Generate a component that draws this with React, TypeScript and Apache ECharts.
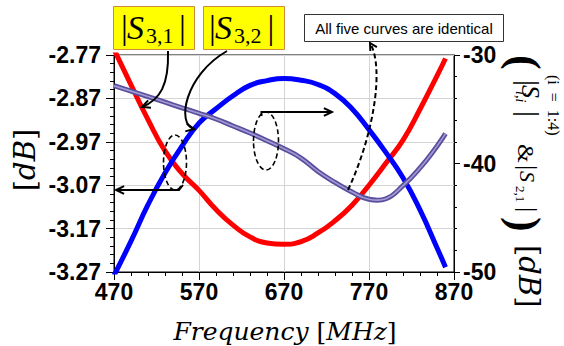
import React, { useEffect, useRef } from "react";
import * as echarts from "echarts";

// Frequency samples (MHz) for |S3,1| and |S3,2| curves
const frequencies = [470, 490, 510, 530, 550, 570, 590, 610, 630, 650, 670, 690, 710, 730, 750, 770, 790, 810, 830, 850, 860];
// |S3,1| [dB] (left axis) – red
const s31Values = [-2.757, -2.839, -2.919, -2.991, -3.043, -3.082, -3.126, -3.162, -3.189, -3.203, -3.206, -3.2, -3.18, -3.152, -3.116, -3.07, -3.019, -2.966, -2.895, -2.818, -2.778];
// |S3,2| [dB] (left axis) – blue
const s32Values = [-3.278, -3.199, -3.115, -3.042, -2.98, -2.927, -2.894, -2.864, -2.84, -2.829, -2.824, -2.828, -2.838, -2.859, -2.894, -2.942, -2.995, -3.053, -3.127, -3.214, -3.259];
// |Si,i| & |S2,1| [dB] (right axis) – purple
const siiFrequencies = [470, 490, 510, 530, 550, 570, 590, 610, 630, 650, 670, 690, 710, 730, 750, 770, 780, 790, 810, 830, 850, 860];
const siiValues = [-32.83, -33.33, -33.83, -34.35, -34.87, -35.37, -35.9, -36.54, -37.19, -37.9, -38.64, -39.5, -40.73, -41.74, -42.63, -43.3, -43.38, -43.25, -42.04, -40.41, -38.4, -37.25];

const xTicks = { min: 470, max: 870, step: 100 };
const leftTicks = { min: -3.27, max: -2.77, step: 0.1 };
const rightTicks = { min: -50, max: -30, step: 10 };

const SERIF = "Liberation Serif";
const DSERIF = "DejaVu Serif";

function head(x: number, y: number, dx: number, dy: number, len = 9, spread = 0.45, extra: any = {}) {
  const a = Math.atan2(dy, dx);
  return {
    type: "polyline",
    z: 100,
    shape: {
      points: [
        [x - len * Math.cos(a - spread), y - len * Math.sin(a - spread)],
        [x, y],
        [x - len * Math.cos(a + spread), y - len * Math.sin(a + spread)],
      ],
    },
    style: { stroke: "#000", fill: "none", lineWidth: 2, ...extra },
  };
}

function rtext(x: number, y: number, text: string, fontSize: number, opts: any = {}) {
  return {
    type: "text",
    x,
    y,
    rotation: opts.rotation ?? -Math.PI / 2,
    z: 100,
    style: {
      text,
      fontSize,
      fontFamily: opts.fontFamily ?? SERIF,
      fontStyle: opts.italic ? "italic" : "normal",
      fontWeight: opts.bold ? "bold" : "normal",
      fill: "#000",
      align: opts.align ?? "left",
      verticalAlign: "middle",
      rich: opts.rich,
    },
  };
}

function ptext(x: number, y: number, text: string, fontSize: number, italic = false) {
  return {
    type: "text",
    x,
    y,
    z: 100,
    style: {
      text,
      fontSize,
      fontFamily: SERIF,
      fontStyle: italic ? "italic" : "normal",
      fill: "#000",
      align: "left",
      verticalAlign: "middle",
    },
  };
}

export default function App() {
  const ref = useRef<HTMLDivElement>(null);
  useEffect(() => {
    document.body.style.margin = "0";
    const chart = echarts.init(ref.current!, null, { renderer: "svg" });
    const labelStyle = {
      fontSize: 23,
      fontWeight: "bold",
      fontFamily: "Liberation Sans",
      color: "#000",
    };
    const dash = { stroke: "#000", fill: "none", lineWidth: 1.6, lineDash: [5, 3] };
    const solid = { stroke: "#000", fill: "none", lineWidth: 2 };
    const option: any = {
      animation: false,
      backgroundColor: "#fff",
      grid: { left: 114, top: 55, width: 340, height: 217, show: true, borderColor: "#000", borderWidth: 1, backgroundColor: "transparent" },
      xAxis: {
        type: "value",
        min: xTicks.min,
        max: xTicks.max,
        interval: xTicks.step,
        axisLine: { lineStyle: { color: "#000", width: 1 } },
        axisTick: { show: true, length: 8, lineStyle: { color: "#000" } },
        minorTick: { show: true, splitNumber: 5, length: 4, lineStyle: { color: "#000" } },
        splitLine: { show: true, lineStyle: { color: "#d4d4d4", width: 1 } },
        axisLabel: { ...labelStyle, margin: 8 },
      },
      yAxis: [
        {
          type: "value",
          position: "left",
          min: leftTicks.min,
          max: leftTicks.max,
          interval: leftTicks.step,
          axisLine: { show: true, lineStyle: { color: "#000", width: 1 } },
          axisTick: { show: true, length: 8, lineStyle: { color: "#000" } },
          minorTick: { show: true, splitNumber: 5, length: 4, lineStyle: { color: "#000" } },
          splitLine: { show: true, lineStyle: { color: "#d4d4d4", width: 1 } },
          axisLabel: { ...labelStyle, margin: 13, formatter: (v: number) => v.toFixed(2) },
        },
        {
          type: "value",
          position: "right",
          min: rightTicks.min,
          max: rightTicks.max,
          interval: rightTicks.step,
          axisLine: { show: true, lineStyle: { color: "#000", width: 1 } },
          axisTick: { show: true, length: 6, lineStyle: { color: "#000" } },
          minorTick: { show: true, splitNumber: 5, length: 3, lineStyle: { color: "#000" } },
          splitLine: { show: false },
          axisLabel: { ...labelStyle, margin: 9, formatter: (v: number) => String(Math.round(v)) },
        },
      ],
      series: [
        {
          type: "line",
          yAxisIndex: 0,
          data: frequencies.map((f, i) => [f, s31Values[i]]),
          smooth: true,
          showSymbol: false,
          lineStyle: { color: "#ff0000", width: 5 },
          z: 2,
        },
        {
          type: "line",
          yAxisIndex: 0,
          data: frequencies.map((f, i) => [f, s32Values[i]]),
          smooth: true,
          showSymbol: false,
          lineStyle: { color: "#0000ff", width: 5 },
          z: 3,
        },
        {
          type: "line",
          yAxisIndex: 1,
          data: siiFrequencies.map((f, i) => [f, siiValues[i]]),
          smooth: true,
          showSymbol: false,
          lineStyle: { color: "#5a4f9c", width: 5 },
          z: 4,
        },
        {
          type: "line",
          yAxisIndex: 1,
          data: siiFrequencies.map((f, i) => [f, siiValues[i]]),
          smooth: true,
          showSymbol: false,
          lineStyle: { color: "#a29ad6", width: 1.6 },
          z: 5,
        },
      ],
      graphic: [
        // yellow label boxes
        { type: "rect", z: 90, shape: { x: 113.5, y: 6.5, width: 81, height: 43 }, style: { fill: "#ffff00", stroke: "#d08a3c", lineWidth: 1 } },
        { type: "rect", z: 90, shape: { x: 203.5, y: 6.5, width: 81, height: 43 }, style: { fill: "#ffff00", stroke: "#d08a3c", lineWidth: 1 } },
        ptext(121, 27.5, "|", 34),
        ptext(127, 27.5, "S", 34, true),
        ptext(146, 35.3, "3,1", 22),
        ptext(179, 27.5, "|", 34),
        ptext(209, 27.5, "|", 34),
        ptext(215, 27.5, "S", 34, true),
        ptext(234, 35.3, "3,2", 22),
        ptext(267.5, 27.5, "|", 34),
        // note box
        { type: "rect", z: 90, shape: { x: 304.5, y: 14.5, width: 199, height: 27 }, style: { fill: "#fff", stroke: "#333", lineWidth: 1 } },
        {
          type: "text",
          x: 404,
          y: 28,
          z: 100,
          style: { text: "All five curves are identical", fontSize: 15, fontFamily: "Liberation Sans", fill: "#000", align: "center", verticalAlign: "middle" },
        },
        // arrow from |S3,1|
        { type: "bezierCurve", z: 100, shape: { x1: 168, y1: 51, cpx1: 169, cpy1: 85, cpx2: 160, cpy2: 100, x2: 142, y2: 107 }, style: solid },
        head(142, 107, -18, 7),
        // arrow from |S3,2|
        { type: "bezierCurve", z: 100, shape: { x1: 227, y1: 51, cpx1: 185, cpy1: 75, cpx2: 176, cpy2: 124, x2: 194, y2: 129 }, style: solid },
        head(194, 129, 16, 3),
        // dashed ellipse at red/blue crossing + arrow to left axis
        { type: "ellipse", z: 100, shape: { cx: 175, cy: 162.5, rx: 11.5, ry: 27.5 }, style: dash },
        { type: "polyline", z: 100, shape: { points: [[183, 185], [179, 190], [116, 190]] }, style: solid },
        head(116, 190, -1, 0),
        // dashed ellipse on purple curve + arrow to right axis
        { type: "ellipse", z: 100, shape: { cx: 266, cy: 141, rx: 12.5, ry: 29 }, style: dash },
        { type: "polyline", z: 100, shape: { points: [[261.5, 116], [261.5, 112], [332, 112]] }, style: solid },
        head(332, 112, 1, 0),
        // dashed arrow to note
        { type: "bezierCurve", z: 100, shape: { x1: 348, y1: 190, cpx1: 375, cpy1: 132, cpx2: 384, cpy2: 66, x2: 370, y2: 43 }, style: { ...dash, lineWidth: 2 } },
        head(370, 43, -12, -20, 8, 0.5),
        // left axis title [dB]
        rtext(25, 160, "{n|[}{i|dB}{n|]}", 29, {
          rotation: Math.PI / 2,
          align: "center",
          fontFamily: DSERIF,
          rich: {
            n: { fontSize: 29, fontFamily: DSERIF, fill: "#000" },
            i: { fontSize: 29, fontFamily: DSERIF, fontStyle: "italic", fill: "#000" },
          },
        }),
        // bottom axis title
        {
          type: "text",
          x: 285,
          y: 331,
          z: 100,
          style: {
            text: "{i|Frequency }{n|[}{i|MHz}{n|]}",
            fill: "#000",
            align: "center",
            verticalAlign: "middle",
            rich: {
              n: { fontSize: 25, fontFamily: DSERIF, fill: "#000" },
              i: { fontSize: 25, fontFamily: DSERIF, fontStyle: "italic", fill: "#000" },
            },
          },
        },
        // right axis title (vertical, reading top to bottom)
        rtext(524, 55, "(", 44, { bold: true }),
        rtext(529.5, 80, "|", 30),
        rtext(530, 85, "S", 26, { italic: true }),
        rtext(520, 91, "i,i", 14, { italic: true }),
        rtext(529.5, 111, "|", 30),
        rtext(553, 75, "(i  =  1:4)", 16, {
          rich: {
            a: {},
          },
        }),
        rtext(525.5, 144, "&", 24),
        rtext(528.7, 165, "|", 26),
        rtext(527.5, 171, "S", 22, { italic: true }),
        rtext(520, 186, "2,1", 13),
        rtext(528.7, 207, "|", 26),
        rtext(524, 217, ")", 44, { bold: true }),
        rtext(529, 245, "{n|[}{i|dB}{n|]}", 29, {
          fontFamily: DSERIF,
          rich: {
            n: { fontSize: 29, fontFamily: DSERIF, fill: "#000" },
            i: { fontSize: 29, fontFamily: DSERIF, fontStyle: "italic", fill: "#000" },
          },
        }),
      ],
    };
    chart.setOption(option);
    return () => chart.dispose();
  }, []);
  return <div ref={ref} style={{ width: 564, height: 346 }} />;
}
